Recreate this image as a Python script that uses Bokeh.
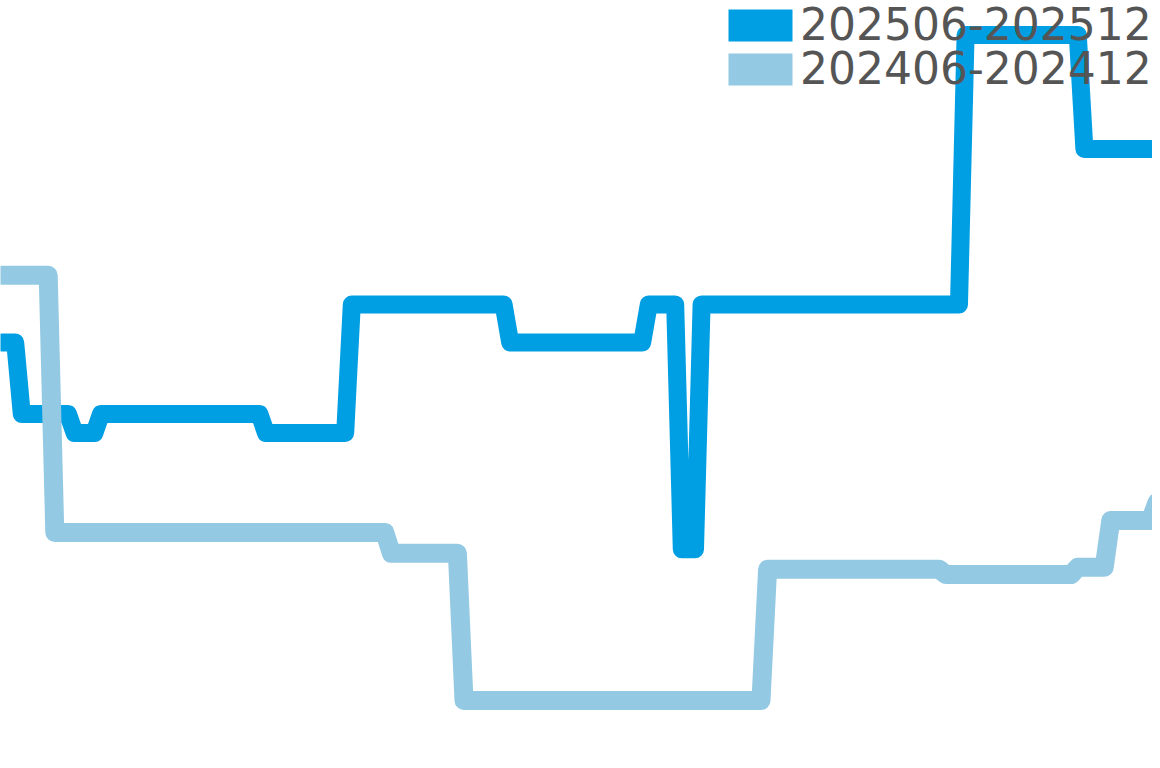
from bokeh.plotting import figure
from bokeh.models import Range1d, Legend, LegendItem
from bokeh.embed import file_html
from bokeh.resources import INLINE

# Day index within the period shown
days = list(range(177))

# Series 202506-202512 (daily values)
s2025 = [
    106.5, 106.5, 106.5,
    88.6, 88.6, 88.6, 88.6, 88.6, 88.6, 88.6, 88.6,
    83.9, 83.9, 83.9, 83.9,
    88.6, 88.6, 88.6, 88.6, 88.6, 88.6, 88.6, 88.6, 88.6, 88.6,
    88.6, 88.6, 88.6, 88.6, 88.6, 88.6, 88.6, 88.6, 88.6, 88.6,
    88.6, 88.6, 88.6, 88.6, 88.6,
    83.9, 83.9, 83.9, 83.9, 83.9, 83.9, 83.9, 83.9, 83.9, 83.9,
    83.9, 83.9, 83.9,
    116.0, 116.0, 116.0, 116.0, 116.0, 116.0, 116.0, 116.0, 116.0, 116.0,
    116.0, 116.0, 116.0, 116.0, 116.0, 116.0, 116.0, 116.0, 116.0, 116.0,
    116.0, 116.0, 116.0, 116.0,
    106.5, 106.5, 106.5, 106.5, 106.5, 106.5, 106.5, 106.5, 106.5, 106.5,
    106.5, 106.5, 106.5, 106.5, 106.5, 106.5, 106.5, 106.5, 106.5, 106.5,
    106.5,
    116.0, 116.0, 116.0, 116.0, 116.0,
    54.8, 54.8, 54.8,
    116.0, 116.0, 116.0, 116.0, 116.0, 116.0, 116.0, 116.0, 116.0, 116.0,
    116.0, 116.0, 116.0, 116.0, 116.0, 116.0, 116.0, 116.0, 116.0, 116.0,
    116.0, 116.0, 116.0, 116.0, 116.0, 116.0, 116.0, 116.0, 116.0, 116.0,
    116.0, 116.0, 116.0, 116.0, 116.0, 116.0, 116.0, 116.0, 116.0, 116.0,
    183.4, 183.4, 183.4, 183.4, 183.4, 183.4, 183.4, 183.4, 183.4, 183.4,
    183.4, 183.4, 183.4, 183.4, 183.4, 183.4, 183.4, 183.4,
    154.9, 154.9, 154.9, 154.9, 154.9, 154.9, 154.9, 154.9, 154.9, 154.9,
    154.9, 154.9, 154.9,
]

# Series 202406-202412 (daily values)
s2024 = [
    123.3, 123.3, 123.3, 123.3, 123.3, 123.3, 123.3, 123.3,
    59.0, 59.0, 59.0, 59.0, 59.0, 59.0, 59.0, 59.0, 59.0, 59.0,
    59.0, 59.0, 59.0, 59.0, 59.0, 59.0, 59.0, 59.0, 59.0, 59.0,
    59.0, 59.0, 59.0, 59.0, 59.0, 59.0, 59.0, 59.0, 59.0, 59.0,
    59.0, 59.0, 59.0, 59.0, 59.0, 59.0, 59.0, 59.0, 59.0, 59.0,
    59.0, 59.0, 59.0, 59.0, 59.0, 59.0, 59.0, 59.0, 59.0, 59.0,
    59.0,
    53.8, 53.8, 53.8, 53.8, 53.8, 53.8, 53.8, 53.8, 53.8, 53.8,
    53.8,
    17.0, 17.0, 17.0, 17.0, 17.0, 17.0, 17.0, 17.0, 17.0, 17.0,
    17.0, 17.0, 17.0, 17.0, 17.0, 17.0, 17.0, 17.0, 17.0, 17.0,
    17.0, 17.0, 17.0, 17.0, 17.0, 17.0, 17.0, 17.0, 17.0, 17.0,
    17.0, 17.0, 17.0, 17.0, 17.0, 17.0, 17.0, 17.0, 17.0, 17.0,
    17.0, 17.0, 17.0, 17.0, 17.0, 17.0,
    49.8, 49.8, 49.8, 49.8, 49.8, 49.8, 49.8, 49.8, 49.8, 49.8,
    49.8, 49.8, 49.8, 49.8, 49.8, 49.8, 49.8, 49.8, 49.8, 49.8,
    49.8, 49.8, 49.8, 49.8, 49.8, 49.8, 49.8,
    48.5, 48.5, 48.5, 48.5, 48.5, 48.5, 48.5, 48.5, 48.5, 48.5,
    48.5, 48.5, 48.5, 48.5, 48.5, 48.5, 48.5, 48.5, 48.5, 48.5,
    50.3, 50.3, 50.3, 50.3, 50.3,
    62.0, 62.0, 62.0, 62.0, 62.0, 62.0, 62.0,
    66.5, 66.5,
]

labels = ["202506-202512", "202406-202412"]
colors = ["#009FE3", "#93C9E3"]

assert len(s2025) == len(days) and len(s2024) == len(days)

W, H = 1152, 760
p = figure(width=W, height=H, output_backend="svg", toolbar_location=None,
           x_range=Range1d(-0.227, 174.32), y_range=Range1d(2, 192),
           min_border=0, background_fill_color="white", border_fill_color="white")
p.axis.visible = False
p.grid.visible = False
p.outline_line_color = None

r_new = p.line(days, s2025, line_color=colors[0], line_width=18,
               line_join="round", line_cap="round")
r_old = p.line(days, s2024, line_color=colors[1], line_width=19,
               line_join="round", line_cap="round")

# legend swatches (rectangles); zero-area quads so nothing shows in the plot
sw_new = p.quad(left=[0], right=[0], top=[0], bottom=[0], fill_color=colors[0], line_color=None)
sw_old = p.quad(left=[0], right=[0], top=[0], bottom=[0], fill_color=colors[1], line_color=None)

legend_style = dict(glyph_width=80, glyph_height=40,
                    label_text_font="DejaVu Sans", label_text_font_size="44px",
                    label_text_color="#555555", label_standoff=0, spacing=0,
                    padding=0, margin=0, border_line_color=None,
                    background_fill_alpha=0)

# two one-item legends so the rows sit 44px apart
legend_w, row_h, pitch = 432, 50, 44
leg1 = Legend(items=[LegendItem(label=labels[0], renderers=[sw_new])],
              location=(W - legend_w, H - row_h), **legend_style)
leg2 = Legend(items=[LegendItem(label=labels[1], renderers=[sw_old])],
              location=(W - legend_w, H - row_h - pitch), **legend_style)
p.add_layout(leg1)
p.add_layout(leg2)

open("out.html", "w").write(file_html(p, INLINE))
